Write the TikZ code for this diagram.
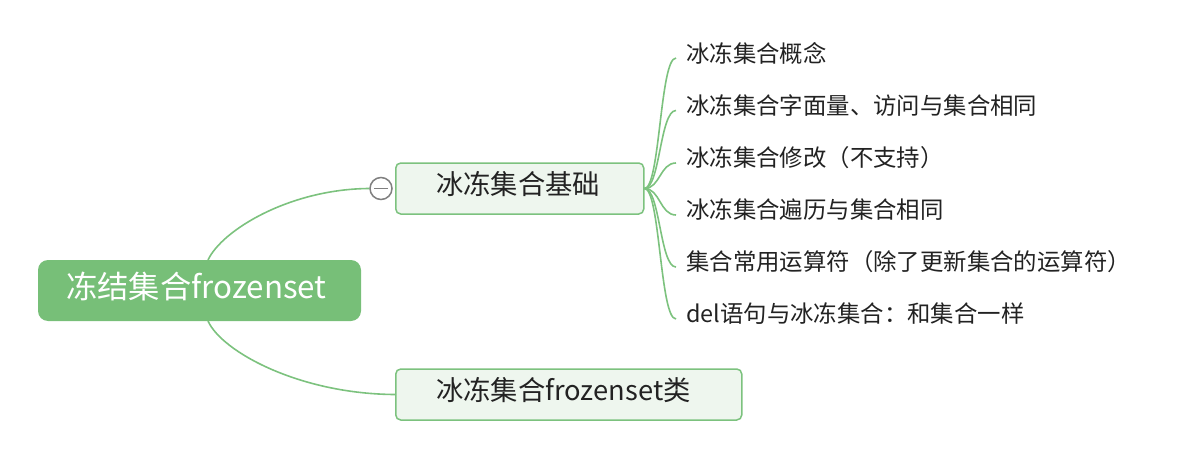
\documentclass[tikz,border=0pt]{standalone}
\usepackage{fontspec}
\setmainfont{Noto Sans CJK SC}
\definecolor{rootfill}{HTML}{77BF78}
\definecolor{boxfill}{HTML}{EEF6EE}
\definecolor{edge}{HTML}{7CC27E}
\definecolor{txt}{HTML}{222222}
\definecolor{knob}{HTML}{808080}
\tikzset{
  rootbox/.style={draw=none, fill=rootfill, rounded corners=10pt, minimum width=323pt, minimum height=61pt, inner sep=0pt},
  roottext/.style={text=white, font=\fontsize{31.3}{36}\selectfont, inner sep=0pt},
  subbox/.style={draw=edge, line width=1.5pt, fill=boxfill, rounded corners=5pt, minimum height=51pt, inner sep=0pt, anchor=west},
  subtext/.style={text=txt, font=\fontsize{27.3}{32}\selectfont, anchor=west, inner sep=0pt},
  leaf/.style={anchor=west, text=txt, font=\fontsize{23.4}{28}\selectfont, inner sep=0pt},
  conn/.style={draw=edge, line width=1.6pt},
  knobst/.style={circle, draw=knob, line width=1.5pt, fill=white, minimum size=22pt, inner sep=0pt}
}
\begin{document}
\begin{tikzpicture}[x=1pt,y=-1pt]
\useasboundingbox (0,0) rectangle (1192,460);
\node[rootbox] (root) at (199.5,290.5) {};
\node[roottext] (roott) at (196.5,286) {冻结集合frozenset};
\node[subbox, minimum width=248pt] (b1) at (395,188.5) {};
\node[subtext] (b1t) at (436,184) {冰冻集合基础};
\node[subbox, minimum width=346pt] (b2) at (395,394.5) {};
\node[subtext] (b2t) at (436,390) {冰冻集合frozenset类};
\coordinate (rt) at (208,260);
\coordinate (rb) at (208,321);
\node[knobst] (k) at (381,188.5) {};
\draw[conn] (rt) .. controls (222,230) and (290,189) .. (k.west);
\draw[conn] (rb) .. controls (222,352) and (300,394) .. (b2.west);
\draw[knob, line width=1.8pt] ([xshift=-7pt]k.center) -- ([xshift=7pt]k.center);
% leaves
\node[leaf] (l1) at (686,53) {冰冻集合概念};
\node[leaf] (l2) at (686,105.5) {冰冻集合字面量、访问与集合相同};
\node[leaf] (l3) at (686,158) {冰冻集合修改（不支持）};
\node[leaf] (l4) at (686,210) {冰冻集合遍历与集合相同};
\node[leaf] (l5) at (686,262) {集合常用运算符（除了更新集合的运算符）};
\node[leaf] (l6) at (686,314) {del语句与冰冻集合：和集合一样};
\foreach \i in {1,...,6}{
  \draw[conn] (b1.east) .. controls (660,188.5) and ([shift={(-26,5)}]l\i.west) .. ([shift={(-10,5)}]l\i.west);
}
\end{tikzpicture}
\end{document}
